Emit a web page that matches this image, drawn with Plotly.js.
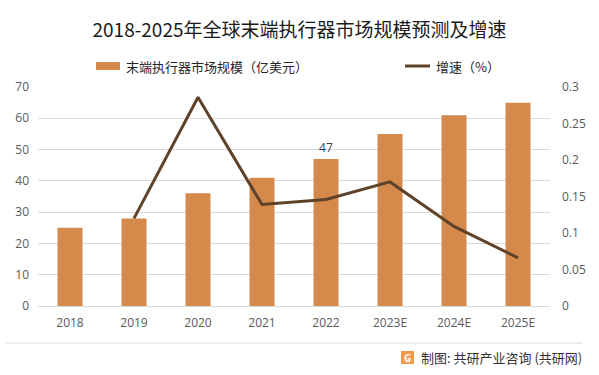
<!DOCTYPE html>
<html><head><meta charset="utf-8">
<script src="https://cdn.plot.ly/plotly-3.0.1.min.js"></script>
<style>html,body{margin:0;padding:0;background:#fff}#chart{width:599px;height:375px}</style>
</head><body><div id="chart"></div>
<script>
const years = ['2018','2019','2020','2021','2022','2023E','2024E','2025E'];
const marketSize = [25, 28, 36, 41, 47, 55, 61, 65];
const growthYears = ['2019','2020','2021','2022','2023E','2024E','2025E'];
const growthRate = [0.12, 0.286, 0.139, 0.146, 0.17, 0.109, 0.066];
const labeledYear = '2022';
const leftTicks = [0,10,20,30,40,50,60,70];
const rightTicks = [0,0.05,0.1,0.15,0.2,0.25,0.3];
const rightTickText = ['0','0.05','0.1','0.15','0.2','0.25','0.3'];

const barColor = '#D58A4C';
const lineColor = '#5E4229';
const tickFont = {family:'Open Sans, Noto Sans CJK SC, sans-serif', size:12, color:'#595959'};
const cjk = 'Noto Sans CJK SC, sans-serif';

const L = 38, R = 550, T = 87, B = 306;
const px = x => (x - L) / (R - L);
const py = y => (B - y) / (B - T);

const traces = [
  {type:'bar', x:years, y:marketSize, name:'末端执行器市场规模（亿美元）',
   marker:{color:barColor}, width:0.39,
   text: years.map((y,i)=> y===labeledYear ? String(marketSize[i]) : ''),
   textposition:'outside', cliponaxis:false,
   textfont:{family:tickFont.family, size:12, color:'#404040'},
   hoverinfo:'skip'},
  {type:'scatter', mode:'lines', x:growthYears, y:growthRate, yaxis:'y2', name:'增速（%）',
   line:{color:lineColor, width:3}, hoverinfo:'skip'}
];

const layout = {
  width:599, height:375,
  margin:{l:L, r:599-R, t:T, b:375-B},
  paper_bgcolor:'#fff', plot_bgcolor:'#fff',
  showlegend:false,
  bargap:0.61,
  title:{text:'2018-2025年全球末端执行器市场规模预测及增速', x:0.5, xanchor:'center', y:1-30/375, yanchor:'middle',
         font:{family:cjk, size:19, color:'#1a1a1a'}},
  xaxis:{type:'category', categoryorder:'array', categoryarray:years, showgrid:false, showline:false, zeroline:false,
         ticks:'', tickfont:tickFont, ticklabelstandoff:8, fixedrange:true},
  yaxis:{range:[0,70], tickvals:leftTicks, showgrid:true, gridcolor:'#d9d9d9', gridwidth:1, zeroline:true, zerolinecolor:'#d9d9d9',
         showline:false, ticks:'', tickfont:tickFont, ticklabelstandoff:8, fixedrange:true},
  yaxis2:{range:[0,0.3], overlaying:'y', side:'right', tickvals:rightTicks, ticktext:rightTickText, showgrid:false, zeroline:false,
          showline:false, ticks:'', tickfont:tickFont, ticklabelstandoff:11, fixedrange:true},
  shapes:[
    {type:'rect', xref:'paper', yref:'paper', x0:px(96), x1:px(120), y0:py(70), y1:py(62), fillcolor:barColor, line:{width:0}},
    {type:'line', xref:'paper', yref:'paper', x0:px(405), x1:px(430), y0:py(66), y1:py(66), line:{color:lineColor, width:3}},
    {type:'line', xref:'paper', yref:'paper', x0:px(5), x1:px(582), y0:py(343), y1:py(343), line:{color:'#d9d9d9', width:1}},
    {type:'rect', xref:'paper', yref:'paper', x0:px(401), x1:px(414), y0:py(364), y1:py(351), fillcolor:'#F39A4A', line:{width:0}}
  ],
  annotations:[
    {xref:'paper', yref:'paper', x:px(124), y:py(66), xanchor:'left', yanchor:'middle', showarrow:false,
     text:'末端执行器市场规模（亿美元）', font:{family:cjk, size:13, color:'#262626'}},
    {xref:'paper', yref:'paper', x:px(434), y:py(66), xanchor:'left', yanchor:'middle', showarrow:false,
     text:'增速（%）', font:{family:cjk, size:13, color:'#262626'}},
    {xref:'paper', yref:'paper', x:px(407.5), y:py(357.5), xanchor:'center', yanchor:'middle', showarrow:false,
     text:'<b>G</b>', font:{family:'Open Sans, sans-serif', size:10, color:'#ffffff'}},
    {xref:'paper', yref:'paper', x:px(419), y:py(357), xanchor:'left', yanchor:'middle', showarrow:false,
     text:'制图: 共研产业咨询 (共研网)', font:{family:cjk, size:13, color:'#333333'}}
  ]
};

Plotly.newPlot('chart', traces, layout, {displayModeBar:false, staticPlot:true});
</script></body></html>
